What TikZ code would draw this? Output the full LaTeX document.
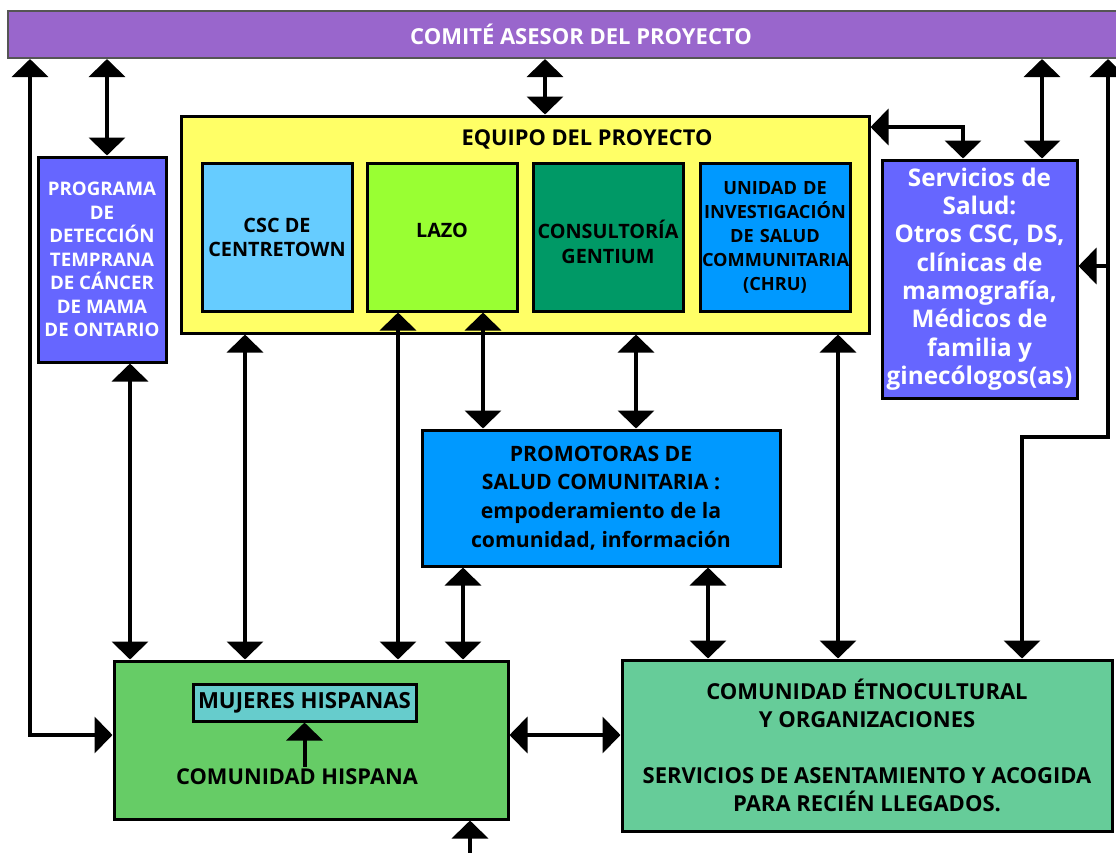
\documentclass[tikz,border=0pt]{standalone}
\usepackage{fontspec}
\setmainfont{Open Sans}
\usetikzlibrary{arrows.meta}
\definecolor{cbar}{HTML}{9966CC}
\definecolor{cbarline}{HTML}{555555}
\definecolor{cyel}{HTML}{FFFF66}
\definecolor{ccsc}{HTML}{66CCFF}
\definecolor{clazo}{HTML}{99FF33}
\definecolor{ccons}{HTML}{009966}
\definecolor{cunid}{HTML}{0099FF}
\definecolor{cprog}{HTML}{6666FF}
\definecolor{cprom}{HTML}{0099FF}
\definecolor{chisp}{HTML}{66CC66}
\definecolor{cmuj}{HTML}{66CCCC}
\definecolor{cethno}{HTML}{66CC99}
\tikzset{
  box/.style={draw=black, line width=3pt, inner sep=0pt, align=center, font=\bfseries},
  tip/.tip={Triangle[width=36pt,length=18pt]},
  dbl/.style={line width=4pt, tip-tip},
  one/.style={line width=4pt, -tip},
  fs/.style 2 args={font=\bfseries\fontsize{#1}{#2}\selectfont}
}
\begin{document}
\begin{tikzpicture}[x=1pt,y=-1pt]
\useasboundingbox (0,0) rectangle (1116,852);
% boxes
\node[box, draw=cbarline, line width=2pt, fill=cbar, minimum width=1146pt, minimum height=47pt, text=white, fs={22}{24}] (bar) at (581,34.5) {COMITÉ ASESOR DEL PROYECTO};
\node[box, fill=cyel, minimum width=688pt, minimum height=217pt] (yel) at (525,224.5) {};
\node[fs={21.8}{24}] (eqt) at (587,139) {EQUIPO DEL PROYECTO};
\node[box, fill=ccsc, minimum width=150pt, minimum height=148pt, fs={19.8}{24}] (csc) at (277,237) {CSC DE\\CENTRETOWN};
\node[box, fill=clazo, minimum width=150pt, minimum height=148pt, fs={19.8}{24}] (lazo) at (442,237) {\raisebox{0pt}[0pt][0pt]{LAZO}};
\node[box, fill=ccons, minimum width=150pt, minimum height=148pt, fs={19.8}{25}] (cons) at (608,237) {\raisebox{-14pt}[0pt][0pt]{\begin{tabular}{@{}c@{}}CONSULTORÍA\\GENTIUM\end{tabular}}};
\node[box, fill=cunid, minimum width=150pt, minimum height=148pt, text width=146pt, fs={18.2}{24}] (unid) at (775,237) {UNIDAD DE\\INVESTIGACIÓN\\DE SALUD\\COMMUNITARIA\\(CHRU)};
\node[box, fill=cprog, minimum width=128pt, minimum height=205pt, text=white, fs={18.7}{23.5}] (prog) at (102,259.5) {PROGRAMA\\DE\\DETECCIÓN\\TEMPRANA\\DE CÁNCER\\DE MAMA\\DE ONTARIO};
\node[box, fill=cprog, minimum width=195pt, minimum height=238pt, text=white, fs={24.3}{28.3}] (serv) at (979.5,279) {Servicios de\\Salud:\\Otros CSC, DS,\\clínicas de\\mamografía,\\Médicos de\\familia y\\ginecólogos(as)};
\node[box, fill=cprom, minimum width=358pt, minimum height=136pt, fs={21.2}{28.7}] (prom) at (601,498) {PROMOTORAS DE\\SALUD COMUNITARIA :\\empoderamiento de la\\comunidad, información};
\node[box, fill=chisp, minimum width=394pt, minimum height=158pt] (hisp) at (311,740) {};
\node[box, fill=cmuj, minimum width=223pt, minimum height=37pt, fs={22.2}{24}] (muj) at (304.5,702.5) {MUJERES HISPANAS};
\node[fs={21.8}{24}, inner sep=2pt] (comh) at (297,777) {COMUNIDAD HISPANA};
\node[box, fill=cethno, minimum width=490pt, minimum height=171pt, fs={22}{28}] (ethno) at (867,745.5) {COMUNIDAD ÉTNOCULTURAL\\Y ORGANIZACIONES\\[28pt]SERVICIOS DE ASENTAMIENTO Y ACOGIDA\\PARA RECIÉN LLEGADOS.};
% column / row coordinates
\coordinate (c30) at (30,0);
\coordinate (c107) at (107,0);
\coordinate (c130) at (130,0);
\coordinate (c245) at (245,0);
\coordinate (c398) at (398,0);
\coordinate (c463) at (463,0);
\coordinate (c470) at (470,0);
\coordinate (c483) at (483,0);
\coordinate (c545) at (545,0);
\coordinate (c636) at (636,0);
\coordinate (c708) at (708,0);
\coordinate (c838) at (838,0);
\coordinate (c963) at (963,0);
\coordinate (c1022) at (1022,0);
\coordinate (c1042) at (1042,0);
\coordinate (c1108) at (1108,0);
\coordinate (r127) at (0,127);
\coordinate (r268) at (0,266);
\coordinate (r437) at (0,437);
\coordinate (r735) at (0,735);
\coordinate (bot) at (470,860);
% connectors
\draw[dbl] (c107 |- bar.south) -- (c107 |- prog.north);
\draw[dbl] (c545 |- bar.south) -- (c545 |- yel.north);
\draw[dbl] (c1042 |- bar.south) -- (c1042 |- serv.north);
\draw[dbl] (c963 |- serv.north) |- (r127 -| yel.east);
\draw[dbl] (c30 |- bar.south) |- (r735 -| hisp.west);
\draw[dbl] (c1108 |- bar.south) -- (c1108 |- r437) -| (c1022 |- ethno.north);
\draw[one] (c1108 |- r268) -- (r268 -| serv.east);
\draw[dbl] (c130 |- prog.south) -- (c130 |- hisp.north);
\draw[dbl] (c245 |- yel.south) -- (c245 |- hisp.north);
\draw[dbl] (c398 |- lazo.south) -- (c398 |- hisp.north);
\draw[dbl] (c483 |- lazo.south) -- (c483 |- prom.north);
\draw[dbl] (c636 |- yel.south) -- (c636 |- prom.north);
\draw[dbl] (c838 |- yel.south) -- (c838 |- ethno.north);
\draw[dbl] (c463 |- prom.south) -- (c463 |- hisp.north);
\draw[dbl] (c708 |- prom.south) -- (c708 |- ethno.north);
\draw[dbl] (r735 -| hisp.east) -- (r735 -| ethno.west);
\draw[one] (bot) -- (c470 |- hisp.south);
\draw[one] (comh.north -| muj.south) -- (muj.south);
\end{tikzpicture}
\end{document}
